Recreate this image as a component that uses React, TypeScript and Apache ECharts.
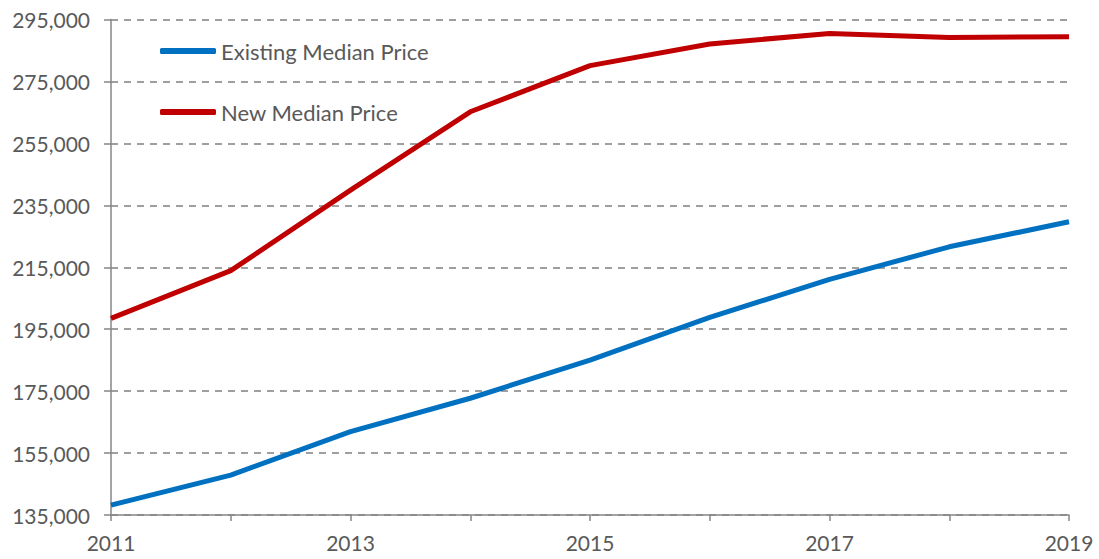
import React, { useEffect, useRef } from "react";
import * as echarts from "echarts";

const years = ["2011", "2012", "2013", "2014", "2015", "2016", "2017", "2018", "2019"];
const existingMedian = [138200, 147900, 161900, 172700, 185000, 198800, 211100, 221600, 229700];
const newMedian = [198500, 213900, 239900, 265200, 280100, 287100, 290500, 289200, 289400];
const seriesNames = ["Existing Median Price", "New Median Price"];

const FONT = "Lato, 'Open Sans', sans-serif";
const TEXT = "#595959";

export default function App() {
  const ref = useRef<HTMLDivElement>(null);
  useEffect(() => {
    if (!ref.current) return;
    const chart = echarts.init(ref.current, undefined, { renderer: "svg" });
    chart.setOption({
      animation: false,
      backgroundColor: "#ffffff",
      textStyle: { fontFamily: FONT },
      grid: { left: 111, right: 30, top: 19.5, bottom: 44, containLabel: false },
      legend: {
        orient: "vertical",
        left: 160,
        top: 40,
        padding: 0,
        itemGap: 39,
        itemWidth: 56,
        itemHeight: 6,
        icon: "roundRect",
        data: seriesNames,
        textStyle: { color: TEXT, fontSize: 22, fontFamily: FONT },
      },
      xAxis: {
        type: "category",
        data: years,
        boundaryGap: false,
        axisLine: { lineStyle: { color: "#868686", width: 1.5 } },
        axisTick: { show: true, length: 6, interval: 0, lineStyle: { color: "#868686", width: 1.5 } },
        axisLabel: { interval: 1, color: TEXT, fontSize: 21, fontFamily: FONT, margin: 17 },
        splitLine: { show: false },
      },
      yAxis: {
        type: "value",
        min: 135000,
        max: 295000,
        interval: 20000,
        axisLine: { show: true, lineStyle: { color: "#868686", width: 1.5 } },
        axisTick: { show: true, length: 7, lineStyle: { color: "#868686", width: 1.5 } },
        axisLabel: {
          color: TEXT,
          fontSize: 21,
          fontFamily: FONT,
          margin: 21,
          formatter: (v: number) => v.toLocaleString("en-US"),
        },
        splitLine: { show: true, lineStyle: { color: "#808080", type: [7, 6], width: 1.5 } },
      },
      series: [
        {
          name: seriesNames[0],
          type: "line",
          data: existingMedian,
          symbol: "none",
          color: "#0070C0",
          lineStyle: { color: "#0070C0", width: 5, join: "round", cap: "butt" },
          itemStyle: { color: "#0070C0" },
        },
        {
          name: seriesNames[1],
          type: "line",
          data: newMedian,
          symbol: "none",
          color: "#C00000",
          lineStyle: { color: "#C00000", width: 5, join: "round", cap: "butt" },
          itemStyle: { color: "#C00000" },
        },
      ],
    });
    return () => chart.dispose();
  }, []);
  return (
    <div
      ref={ref}
      style={{ position: "fixed", left: 0, top: 0, width: 1099, height: 559, background: "#fff" }}
    />
  );
}
